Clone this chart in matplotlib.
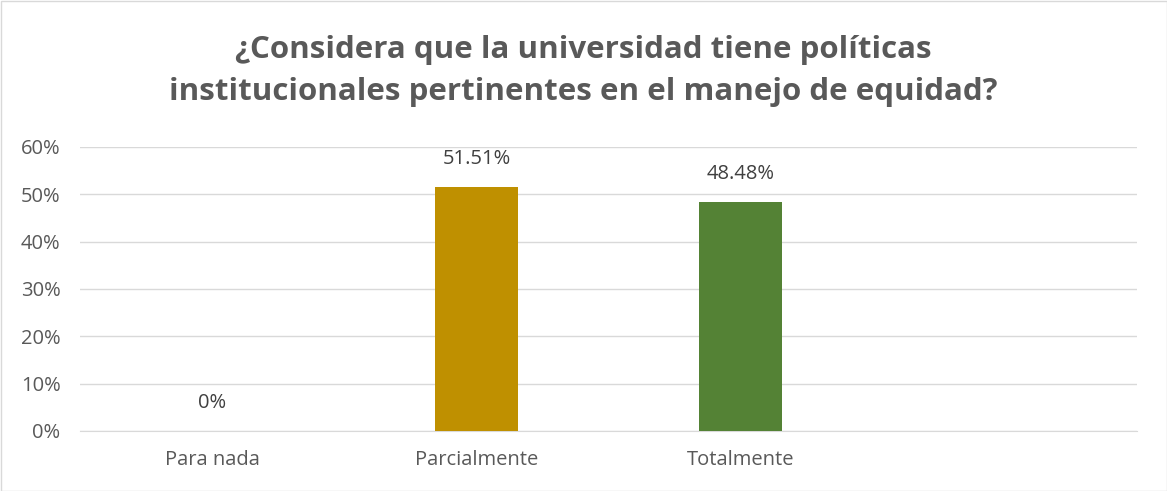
import matplotlib.pyplot as plt
from matplotlib.patches import Rectangle

categorias = ['Para nada', 'Parcialmente', 'Totalmente', '']
valores = [0.0, 51.51, 48.48, None]
etiquetas = ['0%', '51.51%', '48.48%', '']
colores = ['#4472C4', '#BF9000', '#548235', '#A5A5A5']
yticks = [0, 10, 20, 30, 40, 50, 60]

txt = '#595959'
plt.rcParams['font.family'] = ['Open Sans', 'DejaVu Sans']

fig = plt.figure(figsize=(11.67, 4.91), dpi=100)
fig.patches.append(Rectangle((0.5/1167, 0.5/491), 1-1/1167, 1-1/491, transform=fig.transFigure,
                             fill=False, edgecolor='#D9D9D9', linewidth=1))
ax = fig.add_axes([80/1167, 1-431/491, 1057/1167, 284/491])

x = range(len(categorias))
for i, v in enumerate(valores):
    if v is None:
        continue
    ax.bar(i, v, width=0.315, color=colores[i], zorder=3)
    ax.annotate(etiquetas[i], (i, v), xytext=(0, 20), textcoords='offset points',
                ha='center', va='center', fontsize=14.5, color='#404040')

ax.set_xlim(-0.5, 3.5)
ax.set_ylim(0, 60)
ax.set_yticks(yticks)
ax.set_yticklabels([f'{t}%' for t in yticks], fontsize=14.5, color=txt)
ax.set_xticks(list(x))
ax.set_xticklabels(categorias, fontsize=14.5, color=txt)
ax.tick_params(length=0, axis='y', pad=14)
ax.tick_params(length=0, axis='x', pad=14)
ax.grid(axis='y', color='#D9D9D9', linewidth=1, zorder=0)
for s in ['top', 'right', 'left']:
    ax.spines[s].set_visible(False)
ax.spines['bottom'].set_color('#D9D9D9')

fig.text(0.5, 1-71/491, '¿Considera que la universidad tiene políticas\ninstitucionales pertinentes en el manejo de equidad?',
         ha='center', va='center', fontsize=22.5, fontweight='bold', color=txt, linespacing=1.55)

fig.savefig('out.png', dpi=100)
